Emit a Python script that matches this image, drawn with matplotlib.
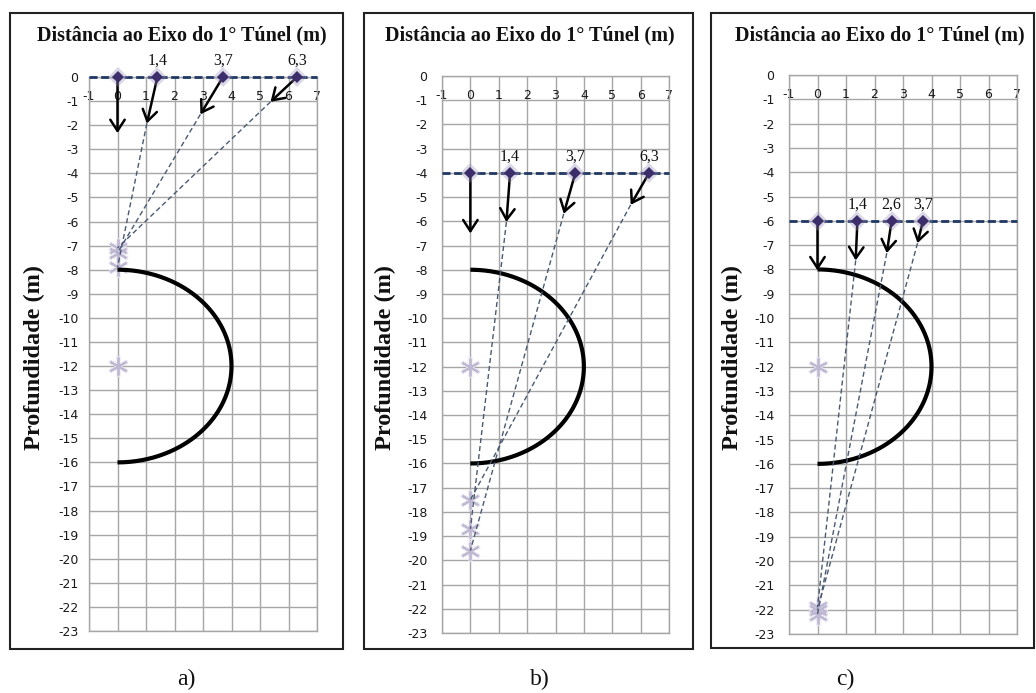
import matplotlib
matplotlib.use("Agg")
import matplotlib.pyplot as plt
import numpy as np
from matplotlib.patches import Rectangle

# ---------------- data ----------------
title_text = "Distância ao Eixo do 1° Túnel (m)"
ylabel_text = "Profundidade (m)"
panel_letters = ["a)", "b)", "c)"]
x_ticks = list(range(-1, 8))
y_ticks = list(range(-23, 1))

tunnel_center_y = -12.0
tunnel_radius = 4.0
tunnel_center_star_y = -12.0

# panel a
a_depth = 0.0
a_x = [0, 1.4, 3.7, 6.3]
a_labels = ["", "1,4", "3,7", "6,3"]
a_tip_x = [0, 1.03, 2.91, 5.37]
a_tip_y = [-2.33, -1.93, -1.55, -1.03]
a_focus_y = [np.nan, -7.9, -7.3, -7.1]
a_star_y = [-7.1, -7.3, -7.9]

# panel b
b_depth = -4.0
b_x = [0, 1.4, 3.7, 6.3]
b_labels = ["", "1,4", "3,7", "6,3"]
b_tip_x = [0, 1.27, 3.29, 5.65]
b_tip_y = [-6.5, -6.03, -5.69, -5.32]
b_focus_y = [np.nan, -18.7, -19.6, -17.5]
b_star_y = [-17.5, -18.7, -19.6]

# panel c
c_depth = -6.0
c_x = [0, 1.4, 2.6, 3.7]
c_labels = ["", "1,4", "2,6", "3,7"]
c_tip_x = [0, 1.34, 2.43, 3.51]
c_tip_y = [-8.04, -7.63, -7.33, -6.92]
c_focus_y = [np.nan, -21.9, -22.2, -22.0]
c_star_y = [-21.9, -22.0, -22.2]

panels = [
    (a_depth, a_x, a_labels, a_tip_x, a_tip_y, a_focus_y, a_star_y),
    (b_depth, b_x, b_labels, b_tip_x, b_tip_y, b_focus_y, b_star_y),
    (c_depth, c_x, c_labels, c_tip_x, c_tip_y, c_focus_y, c_star_y),
]

# ---------------- layout (pixels) ----------------
W, H = 1036, 693
ax_px = [(89, 77, 317, 631), (442, 76, 669, 633), (789, 75, 1017, 634)]
box_px = [(10, 13, 343, 649), (364, 13, 693, 649), (711, 13, 1034, 648)]
title_xc = [182, 530, 880]
ylabel_xc = [34, 385, 732]
letter_xc = [186, 540, 845]
ytick_pad = [7.5, 10.5, 10.5]

fig = plt.figure(figsize=(W / 100, H / 100), dpi=100)
fig.patch.set_facecolor("white")

serif = "Liberation Serif"
grid_col = "#a6a6a6"
tick_col = "#1a1a1a"
tick_fs = 9.0

theta = np.linspace(-np.pi / 2, np.pi / 2, 300)

for i, (depth, xs, labs, tx, ty, fy, sy) in enumerate(panels):
    l, t, r, b = ax_px[i]
    ax = fig.add_axes([l / W, 1 - b / H, (r - l) / W, (b - t) / H])
    ax.set_xlim(-1, 7)
    ax.set_ylim(-23, 0)
    ax.set_xticks(x_ticks)
    ax.set_yticks(y_ticks)
    ax.set_yticklabels([str(v) for v in y_ticks])
    ax.grid(True, color=grid_col, lw=1.0, zorder=0)
    ax.set_axisbelow(True)
    for s in ax.spines.values():
        s.set_color(grid_col)
        s.set_linewidth(1.0)
    ax.tick_params(axis="x", length=0, labelbottom=False)
    ax.tick_params(axis="y", length=0, labelsize=tick_fs, pad=ytick_pad[i],
                   labelcolor=tick_col)
    for xv in x_ticks:
        ax.text(xv, -0.82, str(xv), ha="center", va="center", fontsize=tick_fs,
                color=tick_col, zorder=2)

    # tunnel outline (right half)
    ax.plot(tunnel_radius * np.cos(theta),
            tunnel_center_y + tunnel_radius * np.sin(theta),
            color="black", lw=3, solid_capstyle="butt", zorder=4)

    # star markers
    ax.plot([0] * (len(sy) + 1), list(sy) + [tunnel_center_star_y],
            linestyle="none", marker=(6, 2, 0), ms=15, mew=2.5,
            color="#e6e2ee", zorder=3, clip_on=False)
    ax.plot([0] * (len(sy) + 1), list(sy) + [tunnel_center_star_y],
            linestyle="none", marker=(6, 2, 0), ms=13, mew=1.3,
            color="#bfb8d2", zorder=3, clip_on=False)

    # dashed convergence lines
    for x0, y0, yf in zip(tx, ty, fy):
        if np.isnan(yf):
            continue
        ax.plot([x0, 0], [y0, yf], color="#4a5a72", lw=1.0,
                dashes=(3.6, 2.2), zorder=5)

    # horizontal dashed line
    ax.plot([-1, 7], [depth, depth], color="#1f3864", lw=2.0,
            dashes=(2.9, 1.3), zorder=6, clip_on=False)

    # arrows
    for x0, x1, y1 in zip(xs, tx, ty):
        ax.annotate("", xy=(x1, y1), xytext=(x0, depth),
                    arrowprops=dict(arrowstyle="->,head_length=0.4,head_width=0.26",
                                    color="black", lw=1.8, shrinkA=0, shrinkB=0,
                                    mutation_scale=20),
                    zorder=7)

    # diamonds
    ax.plot(xs, [depth] * len(xs), linestyle="none", marker="D", ms=10,
            color="#9c8fb8", alpha=0.35, mew=0, zorder=8, clip_on=False)
    ax.plot(xs, [depth] * len(xs), linestyle="none", marker="D", ms=6.5,
            color="#3c2e6a", mew=0, zorder=9, clip_on=False)

    # data labels
    for x0, lab in zip(xs, labs):
        if lab:
            ax.text(x0, depth + 0.67, lab, ha="center", va="center",
                    fontsize=11.5, family=serif, color="#111111",
                    zorder=10, clip_on=False)

    # texts in figure coords
    fig.text(title_xc[i] / W, 1 - 35 / H, title_text, ha="center", va="center",
             fontsize=14.5, family=serif, weight="bold", color="#111111")
    fig.text(ylabel_xc[i] / W, 1 - 358 / H, ylabel_text, rotation=90,
             ha="center", va="center", fontsize=17.5, family=serif,
             weight="bold", color="#111111")
    fig.text(letter_xc[i] / W, 1 - 679 / H, panel_letters[i], ha="center",
             va="center", fontsize=17, family=serif, color="#111111")

    bl, bt, br, bb = box_px[i]
    fig.add_artist(Rectangle((bl / W, 1 - bb / H), (br - bl) / W, (bb - bt) / H,
                             transform=fig.transFigure, fill=False,
                             edgecolor="#222222", lw=1.5))

fig.savefig("out.png", dpi=100, facecolor="white")
